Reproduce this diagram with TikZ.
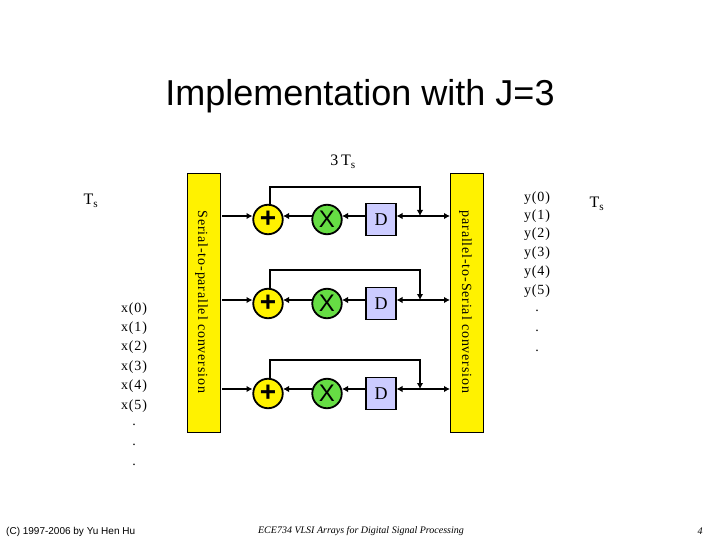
\documentclass[tikz,border=0pt]{standalone}
\usepackage{fontspec}
\setmainfont{Liberation Serif}
\newfontfamily\hvfont{Liberation Sans}
\newfontfamily\spfont[LetterSpace=6]{Liberation Serif}
\usetikzlibrary{arrows.meta}
\definecolor{multgreen}{RGB}{102,221,68}
\definecolor{delayblue}{RGB}{204,204,255}
\tikzset{
  x=1pt,y=-1pt,
  conv/.style={draw=black,line width=1pt,fill=yellow,minimum width=33pt,minimum height=258pt,inner sep=0pt},
  convtext/.style={font=\spfont\fontsize{14}{14}\selectfont,inner sep=0pt},
  adder/.style={circle,draw=black,line width=1.8pt,fill=yellow,minimum size=29.5pt,inner sep=0pt,font=\hvfont\bfseries\fontsize{28}{28}\selectfont},
  mult/.style={circle,draw=black,line width=1.8pt,fill=multgreen,minimum size=29.5pt,inner sep=0pt,font=\hvfont\fontsize{24}{24}\selectfont},
  delay/.style={rectangle,draw=black,line width=1.8pt,fill=delayblue,minimum width=30pt,minimum height=32pt,inner sep=0pt,font=\fontsize{18}{18}\selectfont},
  wire/.style={draw=black,line width=1.5pt,-{Latex[length=6pt,width=6.5pt]}},
  fb/.style={draw=black,line width=1.1pt,-{Latex[length=6pt,width=6.5pt]}},
  lbl/.style={inner sep=0pt,font=\spfont\fontsize{14}{14}\selectfont},
  ts/.style={inner sep=0pt,font=\fontsize{16}{16}\selectfont},
  foot/.style={inner sep=0pt,font=\hvfont\fontsize{10}{10}\selectfont},
  footi/.style={inner sep=0pt,font=\itshape\fontsize{10}{10}\selectfont}
}
\begin{document}
\begin{tikzpicture}
\useasboundingbox (0,0) rectangle (720,540);
\node[inner sep=0pt,font=\hvfont\fontsize{36}{36}\selectfont] (title) at (360,96.5) {Implementation with J=3};
\node[ts] (t3) at (343,162) {3\,T\textsubscript{s}};
\node[ts] (tsl) at (91,201) {T\textsubscript{s}};
\node[ts] (tsr) at (597,204) {T\textsubscript{s}};

\node[conv] (sp) at (203.5,303) {};
\node[conv] (ps) at (467,303) {};
\node[convtext,rotate=-90] (sptext) at (201.5,302) {Serial-to-parallel conversion};
\node[convtext,rotate=-90] (pstext) at (465.5,302) {parallel-to-Serial conversion};

\foreach \n/\cy in {a/219.5,b/303.5,c/393.5}{
  \node[adder] (add\n) at (268,\cy) {\raisebox{-2pt}{+}};
  \node[mult] (mul\n) at (327,\cy) {X};
  \node[delay] (del\n) at (381,\cy) {D};
}
\foreach \n/\ly/\ty/\fy in {a/216/187/205,b/300/270/289,c/389/360/379}{
  \coordinate (sps\n) at (222,\ly);
  \coordinate (addw\n) at (252.5,\ly);
  \coordinate (addo\n) at (283,\ly);
  \coordinate (mulw\n) at (312,\ly);
  \coordinate (mulo\n) at (342,\ly);
  \coordinate (delw\n) at (366,\ly);
  \coordinate (dele\n) at (396.5,\ly);
  \coordinate (pse\n) at (450,\ly);
  \coordinate (jun\n) at (420,\ly);
  \coordinate (tl\n) at (270,\ty);
  \coordinate (tr\n) at (420,\ty);
  \coordinate (fbs\n) at (270,\fy);
  \draw[wire] (sps\n) -- (addw\n);
  \draw[wire] (mulw\n) -- (addo\n);
  \draw[wire] (delw\n) -- (mulo\n);
  \draw[wire] (jun\n) -- (dele\n);
  \draw[wire] (jun\n) -- (pse\n);
  \draw[fb] (fbs\n) -- (tl\n) -- (tr\n) -- (jun\n);
}

\foreach \i/\yy/\t in {0/309/x(0),1/328/x(1),2/347/x(2),3/367/x(3),4/386/x(4),5/406/x(5),6/425/.,7/445/.,8/465/.}{
  \node[lbl] (x\i) at (134,\yy) {\t};
}
\foreach \i/\yy/\t in {0/198/y(0),1/216/y(1),2/234/y(2),3/253/y(3),4/272/y(4),5/291/y(5),6/311/.,7/331/.,8/351/.}{
  \node[lbl] (y\i) at (537,\yy) {\t};
}
\node[foot,anchor=west] (fl) at (6,532) {(C) 1997-2006 by Yu Hen Hu};
\node[footi] (fm) at (361,531) {ECE734 VLSI Arrays for Digital Signal Processing};
\node[footi] (fr) at (700,531) {4};
\end{tikzpicture}
\end{document}
